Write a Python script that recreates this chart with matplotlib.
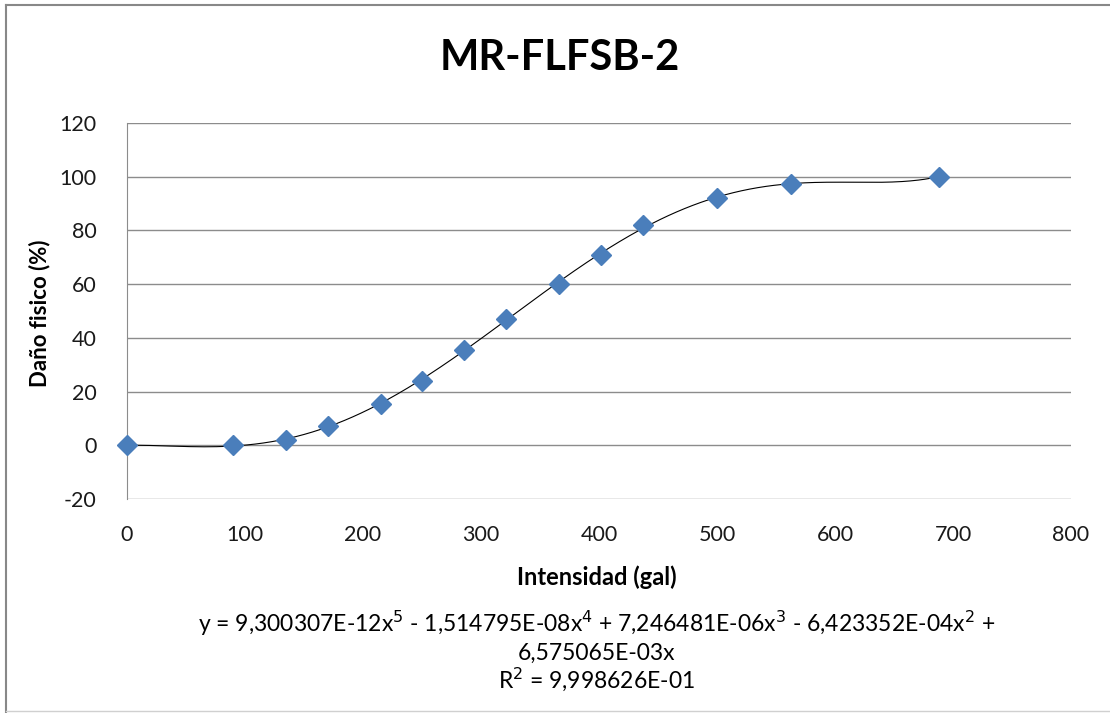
import numpy as np
import matplotlib
matplotlib.use("Agg")
import matplotlib.pyplot as plt
from matplotlib.lines import Line2D

plt.rcParams['font.family'] = ['Lato', 'DejaVu Sans']
plt.rcParams['axes.unicode_minus'] = False

# data
intensidad = [0, 90, 135, 170, 215, 250, 286, 321, 366, 402, 437, 500, 563, 688]
dano = [0, 0, 2, 7, 15.5, 24, 35.3, 47, 60, 71, 82, 92, 97.3, 100]
# trendline coefficients as printed (x^5 .. x^0)
coef = [9.300307e-12, -1.514795e-08, 7.246481e-06, -6.423352e-04, 6.575065e-03, 0.0]

W, H = 1110, 713
fig = plt.figure(figsize=(W / 100, H / 100), dpi=100)
ax = fig.add_axes([127 / W, 1 - 499 / H, 944 / W, 376 / H])

xs = np.linspace(0, max(intensidad), 400)
ax.plot(xs, np.polyval(coef, xs), color='black', lw=0.8, zorder=2)
ax.plot(intensidad, dano, 'D', color='#4A7EBB', ms=10.5, mec='#4A7EBB',
        zorder=3, clip_on=False)

ax.set_xlim(0, 800)
ax.set_ylim(-20, 120)
ax.set_xticks(range(0, 801, 100))
ax.set_yticks(range(-20, 121, 20))
ax.grid(axis='y', color='#8C8C8C', lw=1)
ax.set_axisbelow(True)
for s in ['top', 'right', 'bottom']:
    ax.spines[s].set_visible(False)
ax.spines['left'].set_color('#8C8C8C')
ax.tick_params(length=0, labelsize=15.5, colors='#1a1a1a')
ax.tick_params(axis='x', pad=19)
ax.tick_params(axis='y', pad=22)

fig.text(560 / W, 1 - 58 / H, 'MR-FLFSB-2', ha='center', va='center',
         fontsize=30, fontweight='bold')
fig.text(40 / W, 1 - 313 / H, 'Daño fisico (%)', rotation=90, ha='center',
         va='center', fontsize=16, fontweight='bold')
fig.text(597 / W, 1 - 577 / H, 'Intensidad (gal)', ha='center', va='center',
         fontsize=17, fontweight='bold')
eq_lines = ['y = 9,300307E-12x$^5$ - 1,514795E-08x$^4$ + 7,246481E-06x$^3$ - 6,423352E-04x$^2$ +',
            '6,575065E-03x',
            'R$^2$ = 9,998626E-01']
for line, ypx in zip(eq_lines, [632, 660, 688]):
    fig.text(597 / W, 1 - ypx / H, line, ha='center', va='baseline', fontsize=16.5)

# chart area border
fig.add_artist(Line2D([6 / W, 6 / W], [0, 1 - 5 / H], color='#888888', lw=1.5))
fig.add_artist(Line2D([6 / W, 1], [1 - 5 / H, 1 - 5 / H], color='#888888', lw=1.5))
fig.add_artist(Line2D([6 / W, 1], [1 - 711 / H, 1 - 711 / H], color='#D0D0D0', lw=1))

fig.savefig('out.png', dpi=100)
